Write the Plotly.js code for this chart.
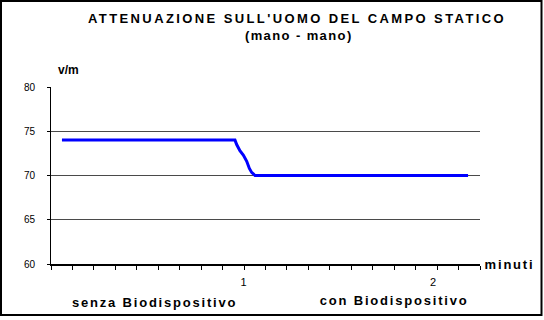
<!DOCTYPE html>
<html>
<head>
<meta charset="utf-8">
<script src="https://cdn.plot.ly/plotly-3.0.1.min.js"></script>
<style>
  html, body { margin: 0; padding: 0; background: #fff; }
  #chart { width: 544px; height: 320px; }
  #chart .gtitle { letter-spacing: 2.4px; }
  #chart g.annotation[data-index="1"] text,
  #chart g.annotation[data-index="2"] text,
  #chart g.annotation[data-index="3"] text { letter-spacing: 1.8px; }
  #chart g.annotation[data-index="4"] text { letter-spacing: 1.4px; }
</style>
</head>
<body>
<div id="chart"></div>
<script>
// Data (time in minutes, field in V/m)
var minutes = [0.042, 0.955, 0.964, 0.981, 0.999, 1.017, 1.031, 1.043, 1.061, 2.185];
var fieldVm = [74.0, 74.0, 73.5, 72.8, 72.3, 71.6, 70.8, 70.35, 70.0, 70.0];
var xTickVals = [1, 2];
var xTickText = ['1', '2'];
var phaseLabels = ['senza Biodispositivo', 'con Biodispositivo'];
var chartTitle = "ATTENUAZIONE SULL'UOMO DEL CAMPO STATICO";
var chartSubtitle = '(mano - mano)';
var yUnit = 'v/m';
var xUnit = 'minuti';

var FONT = 'Liberation Sans, Arial, Helvetica, sans-serif';
var xRange = [-0.0158, 2.248];

var trace = {
  x: minutes,
  y: fieldVm,
  type: 'scatter',
  mode: 'lines',
  line: { color: '#0000FF', width: 3 },
  hoverinfo: 'skip',
  showlegend: false
};

var layout = {
  width: 544,
  height: 320,
  margin: { l: 51, r: 64, t: 87, b: 56, pad: 0 },
  paper_bgcolor: '#ffffff',
  plot_bgcolor: '#ffffff',
  font: { family: FONT, color: '#000000' },
  showlegend: false,
  title: {
    text: chartTitle,
    font: { family: FONT, size: 13, color: '#000000', weight: 'bold' },
    xref: 'container', x: 0.546, xanchor: 'center',
    yref: 'container', y: 0.956, yanchor: 'top'
  },
  xaxis: {
    range: xRange,
    showgrid: false,
    zeroline: false,
    showline: true,
    linecolor: '#000000',
    linewidth: 1.5,
    tickmode: 'array',
    tickvals: xTickVals,
    ticktext: xTickText,
    ticks: '',
    ticklabelstandoff: 7,
    tickfont: { family: FONT, size: 11, color: '#000000' },
    minor: {
      tickmode: 'linear',
      tick0: xRange[0],
      dtick: (xRange[1] - xRange[0]) / 20,
      ticks: 'outside',
      ticklen: 4,
      tickwidth: 1,
      tickcolor: '#000000',
      showgrid: false
    },
    fixedrange: true
  },
  yaxis: {
    range: [60, 80],
    dtick: 5,
    tick0: 60,
    showgrid: true,
    gridcolor: '#4a4a4a',
    gridwidth: 1,
    zeroline: false,
    showline: true,
    linecolor: '#000000',
    linewidth: 1,
    ticks: 'outside',
    ticklen: 3,
    tickcolor: '#000000',
    ticklabelstandoff: 10,
    tickfont: { family: FONT, size: 10, color: '#000000' },
    fixedrange: true
  },
  annotations: [
    { text: '<b>' + yUnit + '</b>', xref: 'paper', yref: 'paper', x: 0.0117, y: 1.096,
      xanchor: 'left', yanchor: 'middle', showarrow: false,
      font: { family: FONT, size: 12, color: '#000000' } },
    { text: '<b>' + xUnit + '</b>', xref: 'paper', yref: 'paper', x: 1.0186, y: 0.0,
      xanchor: 'left', yanchor: 'middle', showarrow: false,
      font: { family: FONT, size: 13, color: '#000000' } },
    { text: '<b>' + phaseLabels[0] + '</b>', xref: 'paper', yref: 'paper', x: 0.2424, y: -0.2147,
      xanchor: 'center', yanchor: 'middle', showarrow: false,
      font: { family: FONT, size: 13, color: '#000000' } },
    { text: '<b>' + phaseLabels[1] + '</b>', xref: 'paper', yref: 'paper', x: 0.7995, y: -0.2034,
      xanchor: 'center', yanchor: 'middle', showarrow: false,
      font: { family: FONT, size: 13, color: '#000000' } },
    { text: '<b>' + chartSubtitle + '</b>', xref: 'paper', yref: 'paper', x: 0.578, y: 1.291,
      xanchor: 'center', yanchor: 'middle', showarrow: false,
      font: { family: FONT, size: 13, color: '#000000' } }
  ],
  shapes: [
    { type: 'rect', xref: 'paper', yref: 'paper',
      x0: -0.11655, x1: 1.14336, y0: -0.2881, y1: 1.4859,
      line: { color: '#000000', width: 2 }, fillcolor: 'rgba(0,0,0,0)', layer: 'above' }
  ]
};

Plotly.newPlot('chart', [trace], layout, { displayModeBar: false, staticPlot: true });
</script>
</body>
</html>
